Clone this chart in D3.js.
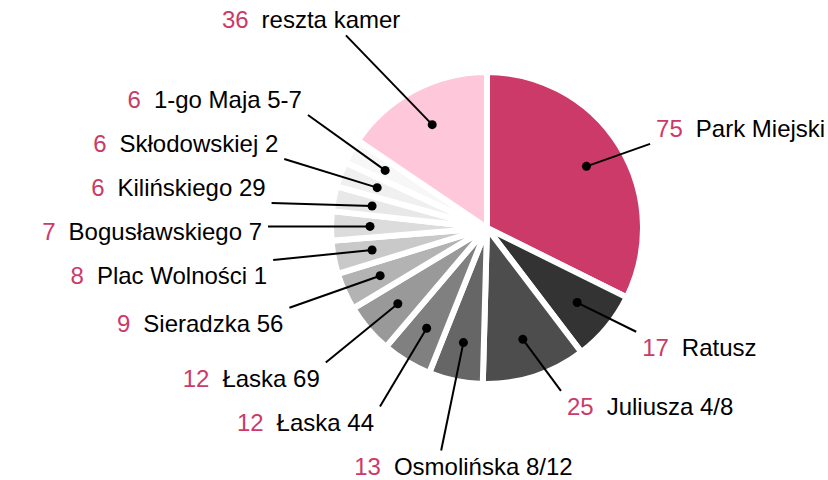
<!DOCTYPE html>
<html>
<head>
<meta charset="utf-8">
<script src="https://cdn.jsdelivr.net/npm/d3@7"></script>
<style>
  body { margin: 0; background: #fff; }
  svg text { font-family: "Liberation Sans", Arial, sans-serif; font-size: 24px; }
</style>
</head>
<body>
<svg id="chart" width="828" height="480"></svg>
<script>
// camera counts, clockwise from 12 o'clock
var names = ["Park Miejski", "Ratusz", "Juliusza 4/8", "Osmolińska 8/12", "Łaska 44", "Łaska 69",
             "Sieradzka 56", "Plac Wolności 1", "Bogusławskiego 7", "Kilińskiego 29",
             "Skłodowskiej 2", "1-go Maja 5-7", "reszta kamer"];
var values = [75, 17, 25, 13, 12, 12, 9, 8, 7, 6, 6, 6, 36];
var palette = ["#cc3a69", "#333333", "#4d4d4d", "#666666", "#808080", "#999999",
               "#b3b3b3", "#c9c9c9", "#dcdcdc", "#e8e8e8", "#f0f0f0", "#f7f7f7", "#ffc7da"];

var cx = 487, cy = 228, radius = 156;
var valueColor = "#cc3a69";

var svg = d3.select("#chart");
var g = svg.append("g").attr("transform", "translate(" + cx + "," + cy + ")");

var rows = names.map(function (n, i) { return {name: n, value: values[i]}; });
var color = d3.scaleOrdinal(names, palette);
var pie = d3.pie().sort(null).value(function (d) { return d.value; });
var arcs = pie(rows);
var arc = d3.arc().innerRadius(0).outerRadius(radius);
var dotArc = d3.arc().innerRadius(117).outerRadius(117);

g.selectAll("path.slice").data(arcs).join("path")
    .attr("class", "slice")
    .attr("d", arc)
    .attr("fill", function (d) { return color(d.data.name); })
    .attr("stroke", "#fff")
    .attr("stroke-width", 6);

var lineLayer = g.append("g");
var dotLayer = g.append("g");

/* label layout: natural height on a circle, then spread apart on each side */
arcs.forEach(function (d) {
    var a = (d.startAngle + d.endAngle) / 2;
    d.mid = a;
    d.side = a > Math.PI ? -1 : 1;
    d.ly = -Math.cos(a) * (d.side < 0 ? 235 : 188);
    d.dot = dotArc.centroid(d);
});

function relax(list, gap) {
    list.sort(function (a, b) { return a.ly - b.ly; });
    var blocks = [];
    list.forEach(function (d) {
        blocks.push({items: [d], mean: d.ly});
        while (blocks.length > 1) {
            var p = blocks[blocks.length - 2], q = blocks[blocks.length - 1];
            var pEnd = p.mean + (p.items.length - 1) * gap / 2;
            var qStart = q.mean - (q.items.length - 1) * gap / 2;
            if (qStart - pEnd >= gap) break;
            var items = p.items.concat(q.items);
            blocks.splice(-2, 2, {items: items, mean: d3.mean(items, function (e) { return e.ly; })});
        }
    });
    blocks.forEach(function (b) {
        b.items.forEach(function (d, i) {
            d.ly = b.mean + (i - (b.items.length - 1) / 2) * gap;
        });
    });
}
relax(arcs.filter(function (d) { return d.side < 0; }), 44);
relax(arcs.filter(function (d) { return d.side > 0; }), 44);

arcs.forEach(function (d) {
    var rx = d.side < 0 ? 225 : 196;
    if (Math.abs(d.ly) < rx * 0.97) {
        d.lx = d.side * Math.sqrt(rx * rx - d.ly * d.ly);
        d.anchor = d.side < 0 ? "end" : "start";
    } else {
        d.lx = d.dot[0];
        d.anchor = "middle";
    }
});

var labels = g.selectAll("text.label").data(arcs).join("text")
    .attr("class", "label")
    .attr("x", function (d) { return d.lx; })
    .attr("y", function (d) { return d.ly + 8; })
    .attr("text-anchor", function (d) { return d.anchor; });
labels.append("tspan").attr("fill", valueColor).text(function (d) { return d.data.value; });
labels.append("tspan").attr("class", "name").attr("dx", 13).attr("fill", "#000")
    .text(function (d) { return d.data.name; });

// connector: closest point of the padded label box; labels under the pie get a
// radial line; labels well above their dot are aimed at the name
labels.each(function (d) {
    var b = this.getBBox();
    var x0 = b.x - 6, x1 = b.x + b.width + 6, y0 = b.y - 2, y1 = b.y + b.height + 2;
    var px = d.dot[0], py = d.dot[1];
    var gx = Math.max(x0 - px, px - x1, 0), gy = Math.max(y0 - py, py - y1, 0);
    if (d.anchor === "middle") {
        var yE = py < y0 ? y0 : y1;
        d.end = [px + (yE - py) * Math.sin(d.mid) / -Math.cos(d.mid), yE];
    } else if (gx > 0 && gy > 2.5 * gx) {
        var nb = d3.select(this).select(".name").node().getBBox();
        var tx = nb.x + nb.width / 2, ty = nb.y + nb.height / 2;
        var yEdge = py > y1 ? y1 : y0;
        var t = (py - yEdge) / (py - ty);
        d.end = [px + (tx - px) * t, yEdge];
    } else {
        d.end = [Math.max(x0, Math.min(x1, px)), Math.max(y0, Math.min(y1, py))];
    }
});

lineLayer.selectAll("line").data(arcs).join("line")
    .attr("x1", function (d) { return d.dot[0]; })
    .attr("y1", function (d) { return d.dot[1]; })
    .attr("x2", function (d) { return d.end[0]; })
    .attr("y2", function (d) { return d.end[1]; })
    .attr("stroke", "#000")
    .attr("stroke-width", 2);

dotLayer.selectAll("circle").data(arcs).join("circle")
    .attr("cx", function (d) { return d.dot[0]; })
    .attr("cy", function (d) { return d.dot[1]; })
    .attr("r", 4.5)
    .attr("fill", "#000");
</script>
</body>
</html>
